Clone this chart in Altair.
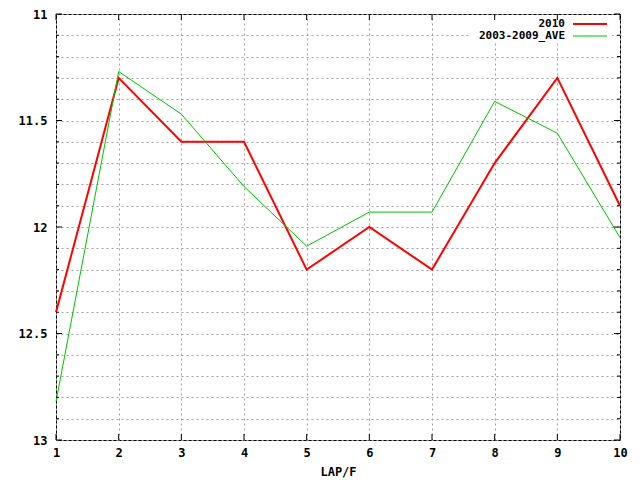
import altair as alt
import pandas as pd

# lap times
laps = [1, 2, 3, 4, 5, 6, 7, 8, 9, 10]
time_2010 = [12.4, 11.3, 11.6, 11.6, 12.2, 12.0, 12.2, 11.7, 11.3, 11.9]
time_ave = [12.82, 11.27, 11.47, 11.81, 12.09, 11.93, 11.93, 11.41, 11.56, 12.05]

series_names = ["2010", "2003-2009_AVE"]
series_colors = ["#ff0000", "#00c000"]
series_widths = [2, 1]

y_major = [11, 11.5, 12, 12.5, 13]
y_minor = [11.1, 11.2, 11.3, 11.4, 11.6, 11.7, 11.8, 11.9,
           12.1, 12.2, 12.3, 12.4, 12.6, 12.7, 12.8, 12.9]
y_grid = sorted(y_major + y_minor)

W, H = 564, 426
FONT = "DejaVu Sans Mono"
GRID = "#a0a0a0"

frame = pd.DataFrame({
    "lap": laps * 2,
    "time": time_2010 + time_ave,
    "series": [series_names[0]] * len(laps) + [series_names[1]] * len(laps),
})

x_scale = alt.Scale(domain=[1, 10], nice=False, zero=False)
y_scale = alt.Scale(domain=[11, 13], reverse=True, nice=False, zero=False)

x_axis = alt.Axis(
    values=laps, grid=True, gridDash=[2, 3], gridColor=GRID, gridOpacity=1,
    ticks=False, domain=False, labelFlush=False, labelPadding=7,
    labelFont=FONT, labelFontSize=12, labelFontWeight="bold", labelColor="black",
    title="LAP/F", titleFont=FONT, titleFontSize=12, titleFontWeight="bold",
    titleColor="black", titlePadding=8,
)
y_axis = alt.Axis(
    values=y_grid, grid=True, gridDash=[2, 3], gridColor=GRID, gridOpacity=1,
    ticks=False, domain=False, labelPadding=9, format="~g", labelOverlap=False,
    labelExpr="abs(datum.value * 2 - round(datum.value * 2)) < 0.001 ? datum.label : ''",
    labelFont=FONT, labelFontSize=12, labelFontWeight="bold", labelColor="black",
    title=None,
)

layers = []

# lines first so the axes come from here
for name, color, width in zip(series_names, series_colors, series_widths):
    layers.append(
        alt.Chart(frame).transform_filter(alt.datum.series == name)
        .mark_line(color=color, strokeWidth=width, strokeJoin="miter")
        .encode(
            x=alt.X("lap:Q", scale=x_scale, axis=x_axis),
            y=alt.Y("time:Q", scale=y_scale, axis=y_axis),
        )
    )

# key box hides the grid behind it
key_box = alt.Chart(pd.DataFrame({"k": [0]})).mark_rect(color="white").encode(
    x=alt.value(414), x2=alt.value(556), y=alt.value(4), y2=alt.value(28)
)

# inward tick marks on all four sides
ticks_y = pd.DataFrame({"v": y_grid, "major": [v in y_major for v in y_grid]})
for major, length in [(True, 6), (False, 3)]:
    sub = ticks_y[ticks_y["major"] == major]
    for x0, x1 in [(0, length), (W - length, W)]:
        layers.append(
            alt.Chart(sub).mark_rule(color="black").encode(
                y=alt.Y("v:Q", scale=y_scale, axis=y_axis),
                x=alt.value(x0), x2=alt.value(x1),
            )
        )
ticks_x = pd.DataFrame({"v": laps})
for y0, y1 in [(H - 6, H), (0, 6)]:
    layers.append(
        alt.Chart(ticks_x).mark_rule(color="black").encode(
            x=alt.X("v:Q", scale=x_scale, axis=x_axis),
            y=alt.value(y0), y2=alt.value(y1),
        )
    )

# key
for i, (name, color, width) in enumerate(zip(series_names, series_colors, series_widths)):
    row_y = 10 + 12 * i
    layers.append(
        alt.Chart(pd.DataFrame({"label": [name]})).mark_text(
            align="right", baseline="middle", font=FONT, fontSize=11,
            fontWeight="bold", color="black",
        ).encode(text="label:N", x=alt.value(509), y=alt.value(row_y))
    )
    layers.append(
        alt.Chart(pd.DataFrame({"label": [name]})).mark_rule(
            color=color, strokeWidth=width
        ).encode(x=alt.value(517), x2=alt.value(551), y=alt.value(row_y))
    )

chart = (
    alt.layer(layers[0], key_box, *layers[1:])
    .properties(
        width=W, height=H,
        autosize=alt.AutoSizeParams(type="none"),
        padding={"left": 48, "top": 6, "right": 12, "bottom": 40},
        background="white",
    )
    .configure_view(stroke="black", strokeWidth=1)
)

chart.save("out.html", embed_options={"renderer": "svg", "actions": False})
